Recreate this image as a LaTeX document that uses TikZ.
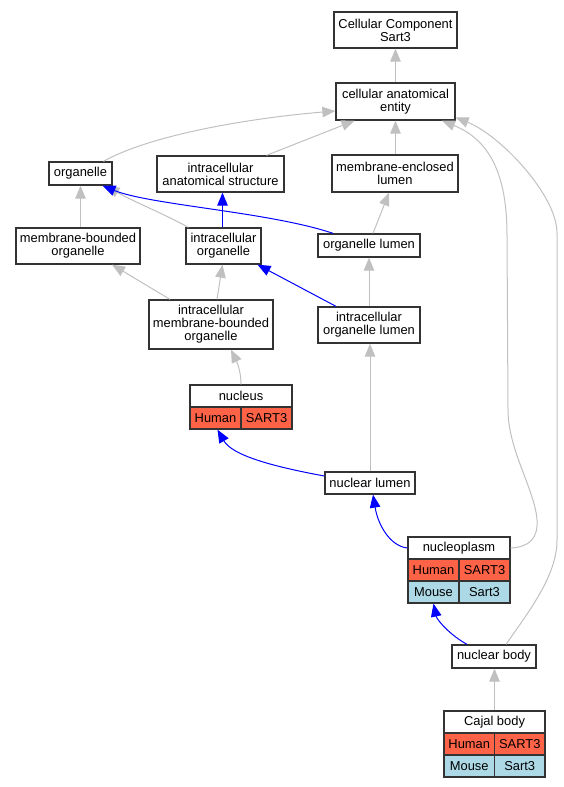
\documentclass[tikz,border=0pt]{standalone}
\usepackage{fontspec}
\setmainfont{Liberation Sans}
\usetikzlibrary{arrows.meta,calc}
\definecolor{tomatoc}{HTML}{FF6347}
\definecolor{lblue}{HTML}{ADD8E6}
\definecolor{edgegray}{HTML}{C0C0C0}
\definecolor{boxline}{HTML}{333333}
\begin{document}
\begin{tikzpicture}[x=1pt,y=-1pt,
  box/.style={draw=boxline, line width=1.3pt, fill=white, inner sep=0pt, align=center,
    font=\fontsize{12.9}{13}\selectfont},
  wh/.style 2 args={minimum width=#1pt, minimum height=#2pt},
  hum/.style={box, fill=tomatoc},
  mou/.style={box, fill=lblue},
  gedge/.style={draw=edgegray, line width=1pt, -{Triangle[length=13pt,width=10.5pt]}},
  bedge/.style={draw=blue, line width=1pt, -{Triangle[length=13pt,width=10.5pt]}}]
\useasboundingbox (0,0) rectangle (563,787);
% nodes
\node[box, wh={123}{36}] (cc) at (395.5,30) {Cellular Component\\Sart3};
\node[box, wh={119}{37}] (cae) at (395.5,101.5) {cellular anatomical\\entity};
\node[box, wh={63}{23}] (org) at (80.5,173.5) {organelle};
\node[box, wh={127}{36}] (ias) at (220.5,174) {intracellular\\anatomical structure};
\node[box, wh={126}{37}] (mel) at (395,173.5) {membrane-enclosed\\lumen};
\node[box, wh={124}{36}] (mbo) at (78,246) {membrane-bounded\\organelle};
\node[box, wh={75}{36}] (io) at (223.5,246) {intracellular\\organelle};
\node[box, wh={102}{23}] (ol) at (369,245.5) {organelle lumen};
\node[box, wh={124}{49}] (imbo) at (211,324.5) {intracellular\\membrane-bounded\\organelle};
\node[box, wh={102}{36}] (iol) at (369,325) {intracellular\\organelle lumen};
% nucleus
\node[box, wh={102}{22}] (nuc) at (241,396) {nucleus};
\node[hum, wh={51}{22}] (nucA) at (215.5,418) {Human};
\node[hum, wh={51}{22}] (nucB) at (266.5,418) {SART3};
\node[box, wh={90}{22}] (nl) at (370,483) {nuclear lumen};
% nucleoplasm
\node[box, wh={102}{22}] (np) at (459,548) {nucleoplasm};
\node[hum, wh={51}{22}] (npA) at (433.5,570) {Human};
\node[hum, wh={51}{22}] (npB) at (484.5,570) {SART3};
\node[mou, wh={51}{22}] (npC) at (433.5,592) {Mouse};
\node[mou, wh={51}{22}] (npD) at (484.5,592) {Sart3};
\node[box, wh={84}{23}] (nb) at (494,656.5) {nuclear body};
% Cajal body
\node[box, wh={101}{22}] (cb) at (494.5,722) {Cajal body};
\node[hum, wh={50.5}{22}] (cbA) at (469.25,744) {Human};
\node[hum, wh={50.5}{22}] (cbB) at (519.75,744) {SART3};
\node[mou, wh={50.5}{22}] (cbC) at (469.25,766) {Mouse};
\node[mou, wh={50.5}{22}] (cbD) at (519.75,766) {Sart3};
% edges
\draw[gedge] (cae.north) -- (cc.south);
\draw[gedge] ([xshift=23pt]org.north) .. controls (150,135) and (250,118) .. ([yshift=-9.5pt]cae.west);
\draw[gedge] ([xshift=46pt]ias.north) -- ([xshift=-41pt]cae.south);
\draw[gedge] (mel.north -| cae.south) -- (cae.south);
\draw[gedge] (np.east) .. controls (530,547) and (538,538) .. (537,520)
  .. controls (535,490) and (508,450) .. (508,410) -- (507,235)
  .. controls (507,175) and (490,140) .. ([xshift=46.5pt]cae.south);
\draw[gedge] ([xshift=12pt]nb.north) .. controls (530,610) and (557,575) .. (557,540) -- (557,233)
  .. controls (557,195) and (500,135) .. ([yshift=-16pt]cae.east);
\draw[gedge] ([xshift=-35pt]io.north) .. controls (160,212) and (130,200) .. ([xshift=26pt]org.south);
\draw[bedge] ([xshift=-36pt]ol.north) .. controls (270,212) and (150,205) .. ([xshift=22pt]org.south);
\draw[gedge] (mbo.north -| org.south) -- (org.south);
\draw[bedge] ([xshift=-1pt]io.north) -- ([xshift=2pt]ias.south);
\draw[gedge] ([xshift=4pt]ol.north) -- ([xshift=-6pt]mel.south);
\draw[gedge] ([xshift=-41pt]imbo.north) -- ([xshift=34pt]mbo.south);
\draw[gedge] ([xshift=6pt]imbo.north) -- ([xshift=-1pt]io.south);
\draw[bedge] ([xshift=-33pt]iol.north) -- ([xshift=34pt]io.south);
\draw[gedge] (iol.north) -- (ol.south);
\draw[gedge] (nuc.north) .. controls (241,370) and (236,360) .. ([xshift=20pt]imbo.south);
\draw[gedge] (nl.north) -- (nl.north |- iol.south);
\draw[bedge] ([yshift=7pt]nl.west) .. controls (270,466) and (232,455) .. ([xshift=2pt]nucA.south);
\draw[bedge] (np.west) .. controls (390,546) and (378,525) .. ([xshift=3pt]nl.south);
\draw[bedge] ([xshift=-27pt]nb.north) .. controls (450,635) and (437,620) .. (npC.south);
\draw[gedge] (cb.north) -- (cb.north |- nb.south);
\end{tikzpicture}
\end{document}
